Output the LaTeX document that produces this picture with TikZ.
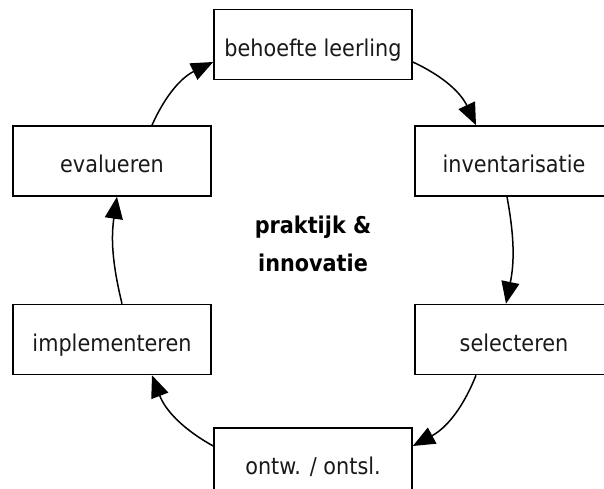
\documentclass[tikz,border=0pt]{standalone}
\usepackage{fontspec}
\setmainfont{DejaVu Sans}[FakeStretch=0.9]
\usetikzlibrary{arrows.meta}
\tikzset{
  stage/.style={draw=black, line width=1.6pt, fill=white, minimum width=198pt, minimum height=70pt,
    inner sep=0pt, text height=23.4pt, text depth=0pt,
    font=\fontsize{23.1}{27}\selectfont, text=black!90},
  cyc/.style={line width=1.5pt, -{Triangle[length=22pt,width=18pt]}},
}
\begin{document}
\begin{tikzpicture}[x=1pt,y=-1pt]
\clip (0,0) rectangle (604,489);
\fill[white] (0,0) rectangle (604,489);
\node[stage] (B1) at (313,44.5) {behoefte leerling};
\node[stage] (B2) at (514,161) {inventarisatie};
\node[stage] (B3) at (514,339.5) {selecteren};
\node[stage] (B4) at (313,463) {ontw. / ontsl.};
\node[stage] (B5) at (112,339.5) {implementeren};
\node[stage] (B6) at (112,161) {evalueren};
\node[align=center, font=\fontsize{23.1}{38}\selectfont\bfseries] (C) at (313,244) {praktijk \&\\innovatie};
\draw[cyc] ([xshift=40pt]B6.north) to[bend left=20] ([yshift=-17.5pt]B1.west);
\draw[cyc] ([yshift=-17.5pt]B1.east) to[bend left=20] ([xshift=-38pt]B2.north);
\draw[cyc] ([xshift=-7pt]B2.south) to[bend left=11] ([xshift=-8pt]B3.north);
\draw[cyc] ([xshift=-38pt]B3.south) to[bend left=20] ([yshift=17pt]B4.east);
\draw[cyc] ([yshift=17pt]B4.west) to[bend left=20] ([xshift=40pt]B5.south);
\draw[cyc] ([xshift=10pt]B5.north) to[bend left=11] ([xshift=5pt]B6.south);
\end{tikzpicture}
\end{document}
